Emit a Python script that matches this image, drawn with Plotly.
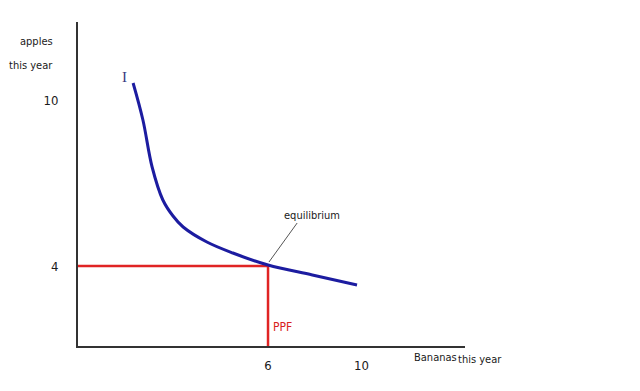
import plotly.graph_objects as go

# Indifference curve I (bananas, apples)
curve_x = [1.74, 2.05, 2.34, 2.68, 3.0, 3.32, 4.07, 4.89, 6.0, 7.4, 8.81]
curve_y = [13.15, 11.3, 8.95, 7.3, 6.5, 5.95, 5.2, 4.65, 4.05, 3.55, 3.05]

# Red PPF guide lines through equilibrium
eq_x, eq_y = 6.0, 4.0
hline_x = [0, eq_x]
hline_y = [eq_y, eq_y]
vline_x = [eq_x, eq_x]
vline_y = [eq_y, 0]

# leader line for "equilibrium"
leader_x = [6.03, 6.92]
leader_y = [4.2, 6.15]

x_tick_pos = [6.0, 8.95]
x_tick_text = ["6", "10"]
y_tick_pos = [4.0, 12.3]
y_tick_text = ["4", "10"]

FONT = "Liberation Sans Narrow, DejaVu Sans Condensed, Liberation Sans, sans-serif"
TXT = "#1a1a1a"


def f(size, color=TXT, family=FONT):
    return dict(size=size, color=color, family=family)


fig = go.Figure()
fig.add_trace(go.Scatter(x=hline_x, y=hline_y, mode="lines",
                         line=dict(color="#e02424", width=2.5), hoverinfo="skip"))
fig.add_trace(go.Scatter(x=vline_x, y=vline_y, mode="lines",
                         line=dict(color="#e02424", width=2.5), hoverinfo="skip"))
fig.add_trace(go.Scatter(x=curve_x, y=curve_y, mode="lines",
                         line=dict(color="#1c1ca0", width=3, shape="spline", smoothing=1.0),
                         hoverinfo="skip"))
fig.add_trace(go.Scatter(x=leader_x, y=leader_y, mode="lines",
                         line=dict(color="#555555", width=1), hoverinfo="skip"))

ann = [
    dict(xref="paper", yref="paper", x=-0.06, y=0.966, text="apples", xanchor="right", font=f(11)),
    dict(xref="paper", yref="paper", x=-0.06, y=0.892, text="this year", xanchor="right", font=f(11)),
    dict(xref="paper", yref="paper", x=0.863, y=-0.062, text="Bananas", xanchor="left", font=f(11)),
    dict(xref="paper", yref="paper", x=0.978, y=-0.068, text="this year", xanchor="left", font=f(11)),
    dict(xref="x", yref="y", x=1.48, y=13.45, text="I",
         font=f(15, "#3a3a80", "Liberation Serif, DejaVu Serif, serif")),
    dict(xref="x", yref="y", x=7.39, y=6.55, text="equilibrium", font=f(11)),
    dict(xref="x", yref="y", x=6.47, y=0.95, text="PPF", font=f(12, "#d82020")),
]
for a in ann:
    a.update(showarrow=False)

fig.update_layout(
    width=632, height=383,
    margin=dict(l=70, r=175, t=14, b=45),
    paper_bgcolor="white", plot_bgcolor="white",
    showlegend=False,
    annotations=ann,
    xaxis=dict(range=[0, 12.22], showgrid=False, zeroline=False, showline=True,
               linecolor="#333333", linewidth=2, tickmode="array",
               tickvals=x_tick_pos, ticktext=x_tick_text, ticks="",
               ticklabelstandoff=6, tickfont=f(13)),
    yaxis=dict(range=[0, 16.2], showgrid=False, zeroline=False, showline=True,
               linecolor="#333333", linewidth=2, tickmode="array",
               tickvals=y_tick_pos, ticktext=y_tick_text, ticks="",
               ticklabelstandoff=15, tickfont=f(13)),
)

fig.write_html("out.html")
